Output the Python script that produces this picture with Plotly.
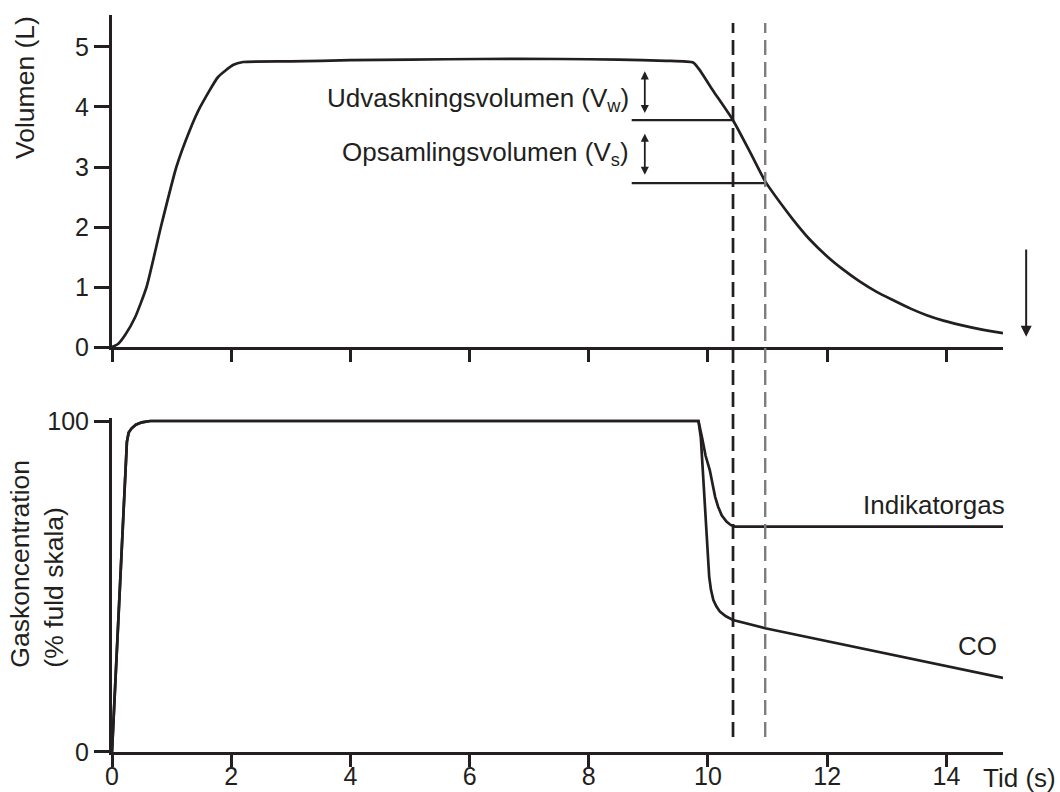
import plotly.graph_objects as go

INK = "#231f20"
GREY = "#7d7d7d"
FONT = "Liberation Sans, Arial, sans-serif"

# --- Volume (L) during the single-breath manoeuvre -------------------------
vol_t = [0.0, 0.1, 0.22, 0.39, 0.58, 0.82, 1.08, 1.3, 1.48, 1.78, 2.03, 2.2,
         3.0, 4.0, 5.0, 6.2, 7.5, 8.5, 9.3, 9.75, 9.85, 10.08, 10.42, 10.7,
         10.96, 11.2, 11.43, 11.7, 12.0, 12.27, 12.55, 12.83, 13.11, 13.4,
         13.67, 13.95, 14.23, 14.6, 14.95]
vol_v = [0.0, 0.05, 0.2, 0.5, 1.0, 2.0, 3.0, 3.6, 4.0, 4.5, 4.7, 4.75,
         4.76, 4.78, 4.79, 4.8, 4.8, 4.79, 4.77, 4.74, 4.63, 4.28, 3.78, 3.26,
         2.76, 2.42, 2.12, 1.8, 1.51, 1.29, 1.09, 0.92, 0.78, 0.64,
         0.53, 0.44, 0.37, 0.29, 0.23]

# --- Gas concentrations (% of full scale) ----------------------------------
ind_t = [0.0, 0.25, 0.28, 0.33, 0.4, 0.5, 0.64, 9.84, 9.9, 9.96, 10.03, 10.08,
         10.12, 10.17, 10.23, 10.31, 10.38, 10.45, 14.95]
ind_c = [0.0, 93.7, 96.5, 97.8, 98.9, 99.6, 100.0, 100.0, 95.0, 89.5, 85.2, 80.5,
         77.1, 74.1, 71.5, 69.6, 68.6, 68.1, 68.1]

co_t = [0.0, 0.25, 0.28, 0.33, 0.4, 0.5, 0.64, 9.84, 9.88, 9.93, 9.98, 10.02,
        10.05, 10.09, 10.14, 10.2, 10.3, 10.42, 10.96, 14.95]
co_c = [0.0, 93.7, 96.5, 97.8, 98.9, 99.6, 100.0, 100.0, 95.0, 80.0, 64.0, 53.0,
        49.0, 45.9, 44.0, 42.4, 41.0, 39.9, 37.4, 22.4]

# --- Washout / sample collection markers -----------------------------------
washout_end = 10.42          # end of washout volume (s)
sample_end = 10.96           # end of sample collection (s)
vw_level = 3.78              # volume at end of washout (L)
vs_level = 2.73              # volume at end of sampling (L)
bracket_start = 8.72         # left end of the level lines (s)
arrow_t = 8.94               # position of the double arrows (s)
vw_arrow = (4.62, 3.90)
vs_arrow = (3.58, 2.87)

x_ticks = [0, 2, 4, 6, 8, 10, 12, 14]
vol_ticks = [0, 1, 2, 3, 4, 5]
conc_ticks = [0, 100]

labels = {
    "vw": "Udvaskningsvolumen (V<sub>w</sub>)",
    "vs": "Opsamlingsvolumen (V<sub>s</sub>)",
    "ind": "Indikatorgas",
    "co": "CO",
    "time": "Tid (s)",
    "vol": "Volumen (L)",
    "conc": "Gaskoncentration<br>(% fuld skala)",
}

line_style = dict(color=INK, width=2.7)

fig = go.Figure()
fig.add_trace(go.Scatter(x=vol_t, y=vol_v, mode="lines",
                         line=dict(**line_style, shape="spline", smoothing=0.5),
                         xaxis="x", yaxis="y"))
fig.add_trace(go.Scatter(x=[bracket_start, washout_end], y=[vw_level, vw_level], mode="lines",
                         line=dict(color=INK, width=2.2), xaxis="x", yaxis="y"))
fig.add_trace(go.Scatter(x=[bracket_start, sample_end], y=[vs_level, vs_level], mode="lines",
                         line=dict(color=INK, width=2.2), xaxis="x", yaxis="y"))
fig.add_trace(go.Scatter(x=ind_t, y=ind_c, mode="lines", line=line_style,
                         xaxis="x2", yaxis="y2"))
fig.add_trace(go.Scatter(x=co_t, y=co_c, mode="lines", line=line_style,
                         xaxis="x2", yaxis="y2"))

axis_common = dict(showgrid=False, zeroline=False, showline=True, linewidth=3, linecolor=INK,
                   ticks="outside", tickwidth=3, tickcolor=INK, automargin=False,
                   tickfont=dict(size=25, color=INK, family=FONT))

fig.update_layout(
    width=1060, height=792,
    margin=dict(l=112, r=57, t=15, b=40, autoexpand=False),
    plot_bgcolor="white", paper_bgcolor="white",
    showlegend=False,
    font=dict(family=FONT, color=INK, size=24),
    xaxis=dict(axis_common, domain=[0, 1], anchor="y", range=[0, 14.95], tickvals=x_ticks,
               showticklabels=False, ticklen=12),
    yaxis=dict(axis_common, domain=[0.5495, 1], anchor="x", range=[0, 5.533], tickvals=vol_ticks,
               ticklen=15),
    xaxis2=dict(axis_common, domain=[0, 1], anchor="y2", range=[0, 14.95], tickvals=x_ticks,
                ticklen=12, ticklabelstandoff=-12),
    yaxis2=dict(axis_common, domain=[0, 0.4536], anchor="x2", range=[0, 101], tickvals=conc_ticks,
                ticklen=15),
)

# vertical markers for end of washout and end of sampling
dash = "15px,7px"
fig.add_shape(type="line", xref="x", yref="paper", x0=washout_end, x1=washout_end,
              y0=0.0204, y1=0.9891, line=dict(color=INK, width=2.7, dash=dash))
fig.add_shape(type="line", xref="x", yref="paper", x0=sample_end, x1=sample_end,
              y0=0.0204, y1=0.9891, line=dict(color=GREY, width=2.4, dash=dash))

ann_font = dict(size=26, color=INK, family=FONT)
title_font = dict(size=26.5, color=INK, family=FONT)

# double-headed arrows marking the two volumes
for hi, lo in (vw_arrow, vs_arrow):
    fig.add_annotation(x=arrow_t, y=lo, ax=arrow_t, ay=hi,
                       xref="x", yref="y", axref="x", ayref="y", text="",
                       showarrow=True, arrowside="end+start", arrowhead=2, startarrowhead=2,
                       arrowwidth=1.8, arrowsize=0.9, startarrowsize=0.9, arrowcolor=INK)

fig.add_annotation(x=bracket_start, y=4.13, xref="x", yref="y", text=labels["vw"], showarrow=False,
                   xanchor="right", yanchor="middle", xshift=-1, font=ann_font)
fig.add_annotation(x=bracket_start, y=3.22, xref="x", yref="y", text=labels["vs"], showarrow=False,
                   xanchor="right", yanchor="middle", xshift=-1, font=ann_font)
fig.add_annotation(x=14.95, y=74.5, xref="x2", yref="y2", text=labels["ind"], showarrow=False,
                   xanchor="right", yanchor="middle", xshift=4, font=ann_font)
fig.add_annotation(x=14.95, y=31.9, xref="x2", yref="y2", text=labels["co"], showarrow=False,
                   xanchor="right", yanchor="middle", xshift=-4, font=ann_font)

# downward arrow at the right of the volume panel
fig.add_annotation(x=1.026, y=0.17, xref="paper", yref="y", ax=0, ay=1.65, axref="pixel", ayref="y",
                   text="", showarrow=True, arrowhead=2, arrowwidth=2, arrowsize=1.1, arrowcolor=INK)

# axis titles
fig.add_annotation(x=1.018, y=-0.035, xref="paper", yref="paper", text=labels["time"], showarrow=False,
                   xanchor="center", yanchor="middle", font=ann_font)
fig.add_annotation(x=-0.0976, y=0.901, xref="paper", yref="paper", text=labels["vol"], showarrow=False,
                   textangle=-90, xanchor="center", yanchor="middle", font=title_font)
fig.add_annotation(x=-0.084, y=0.2558, xref="paper", yref="paper", text=labels["conc"], showarrow=False,
                   textangle=-90, align="left", xanchor="center", yanchor="middle", font=title_font)

fig.write_html("out.html")
